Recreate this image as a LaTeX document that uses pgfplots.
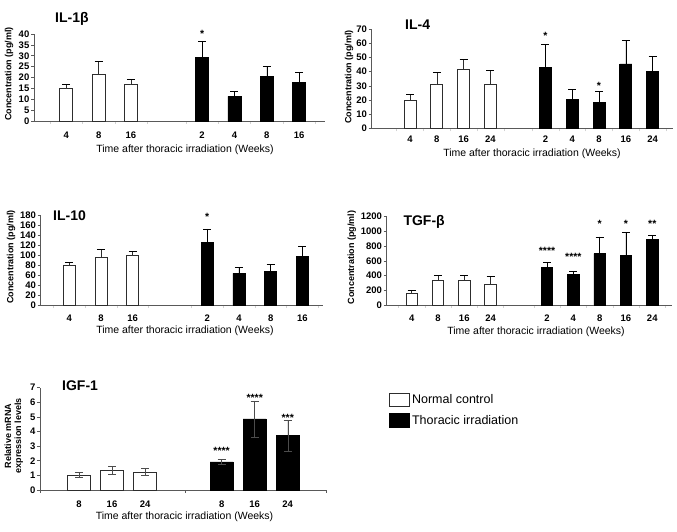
\documentclass[border=0pt]{standalone}
\usepackage{fontspec}
\setmainfont{Liberation Sans}
\usepackage{pgfplots}
\pgfplotsset{compat=1.18}
\pgfplotsset{
  panel/.style={
    scale only axis, clip=false, enlargelimits=false,
    axis x line*=bottom, axis y line*=left,
    axis line style={-, draw=gray!70!black, line width=0.7pt},
    ymin=0,
    tick align=outside,
    major tick length=3pt, minor tick length=3pt,
    major x tick style={draw=none},
    minor x tick style={draw=gray!35, line width=0.5pt},
    major y tick style={draw=gray!70!black, line width=0.6pt},
    scaled y ticks=false,
    /pgf/number format/assume math mode=true,
    /pgf/number format/1000 sep={},
    tick label style={font=\bfseries\fontsize{9.5}{10}\selectfont, text=black},
    yticklabel style={inner sep=1.5pt},
    ylabel style={font=\bfseries\fontsize{9}{10}\selectfont, anchor=center},
    xlabel style={font=\fontsize{10.5}{12}\selectfont, anchor=center},
    ybar, bar shift=0pt,
    error bars/y dir=plus, error bars/y explicit,
    error bars/error mark options={rotate=90, mark size=4pt},
  },
  ctrl/.style={fill=white, draw=gray!35!black, line width=0.8pt},
  irr/.style={fill=black, draw=black, line width=0.8pt},
}
\tikzset{sigstar/.style={anchor=base, yshift=-6pt, font=\bfseries\fontsize{10.5}{11}\selectfont, inner sep=0pt}}
\begin{document}
\begin{tikzpicture}
\useasboundingbox (0,0) rectangle (677pt,532pt);

% ---------- IL-1beta ----------
\begin{axis}[panel, at={(34pt,411pt)}, anchor=south west,
  width=291pt, height=87pt, xmin=0, xmax=9, ymax=40, ytick={0,5,...,40},
  bar width=13pt,
  xtick={1,2,3,5.2,6.2,7.2,8.2}, xticklabels={4,8,16,2,4,8,16},
  minor xtick={0.5,1.5,2.5,3.5,4.7,5.7,6.7,7.7,8.7},
  xticklabel style={yshift=-4pt},
  ylabel={Concentration (pg/ml)}, ylabel style={at={(axis description cs:-0.086,0.54)}},
  xlabel={Time after thoracic irradiation (Weeks)}, xlabel style={at={(axis description cs:0.519,-0.333)}}]
\addplot[ctrl] table[x=x,y=y,y error=e]{
x y e
1 15.0 1.7
2 21.6 6.0
3 16.7 2.7
};
\addplot[irr] table[x=x,y=y,y error=e]{
x y e
5.2 29.4 7.1
6.2 11.3 2.2
7.2 20.5 4.5
8.2 17.6 4.8
};
\node[sigstar] at (axis cs:5.2,41) {*};
\end{axis}

% ---------- IL-4 ----------
\begin{axis}[panel, at={(371.7pt,403.7pt)}, anchor=south west,
  width=301.3pt, height=99pt, xmin=-0.43, xmax=10.81, ymax=70, ytick={0,10,...,70},
  bar width=12pt,
  xtick={1,2,3,4,6.05,7.05,8.05,9.05,10.05}, xticklabels={4,8,16,24,2,4,8,16,24},
  minor xtick={0.5,1.5,2.5,3.5,4.5,5.55,6.55,7.55,8.55,9.55,10.55},
  xticklabel style={yshift=-1pt},
  ylabel={Concentration (pg/ml)}, ylabel style={at={(axis description cs:-0.075,0.52)}},
  xlabel={Time after thoracic irradiation (Weeks)}, xlabel style={at={(axis description cs:0.532,-0.26)}}]
\addplot[ctrl] table[x=x,y=y,y error=e]{
x y e
1 20.0 4.3
2 30.8 8.8
3 41.4 7.1
4 30.8 10.4
};
\addplot[irr] table[x=x,y=y,y error=e]{
x y e
6.05 43.1 16.3
7.05 20.7 6.9
8.05 18.4 7.5
9.05 45.5 16.7
10.05 40.5 10.6
};
\node[sigstar] at (axis cs:6.05,67.2) {*};
\node[sigstar] at (axis cs:8.05,31.8) {*};
\end{axis}

% ---------- IL-10 ----------
\begin{axis}[panel, at={(40.7pt,226.7pt)}, anchor=south west,
  width=282.3pt, height=89.6pt, xmin=0.1, xmax=9.0, ymax=180, ytick={0,20,...,180},
  bar width=12pt,
  xtick={1,2,3,5.35,6.35,7.35,8.35}, xticklabels={4,8,16,2,4,8,16},
  minor xtick={0.5,1.5,2.5,3.5,4.85,5.85,6.85,7.85,8.85},
  xticklabel style={yshift=-3pt},
  ylabel={Concentration (pg/ml)}, ylabel style={at={(axis description cs:-0.105,0.54)}},
  xlabel={Time after thoracic irradiation (Weeks)}, xlabel style={at={(axis description cs:0.511,-0.287)}}]
\addplot[ctrl] table[x=x,y=y,y error=e]{
x y e
1 80.3 5.4
2 96.4 16.6
3 100.4 7.4
};
\addplot[irr] table[x=x,y=y,y error=e]{
x y e
5.35 126.5 26.8
6.35 64.3 12.0
7.35 68.3 14.0
8.35 98.4 20.1
};
\node[sigstar] at (axis cs:5.35,181.4) {*};
\end{axis}

% ---------- TGF-beta ----------
\begin{axis}[panel, at={(386.7pt,227pt)}, anchor=south west,
  width=285pt, height=88.3pt, xmin=0.05, xmax=10.89, ymax=1200, ytick={0,200,...,1200},
  bar width=11.5pt,
  xtick={1,2,3,4,6.15,7.15,8.15,9.15,10.15}, xticklabels={4,8,16,24,2,4,8,16,24},
  minor xtick={0.5,1.5,2.5,3.5,4.5,5.65,6.65,7.65,8.65,9.65,10.65},
  xticklabel style={yshift=-3pt},
  ylabel={Concentration (pg/ml)}, ylabel style={at={(axis description cs:-0.122,0.54)}},
  xlabel={Time after thoracic irradiation (Weeks)}, xlabel style={at={(axis description cs:0.524,-0.30)}}]
\addplot[ctrl] table[x=x,y=y,y error=e]{
x y e
1 158 37
2 340 59
3 340 59
4 285 113
};
\addplot[irr] table[x=x,y=y,y error=e]{
x y e
6.15 512 63
7.15 412 50
8.15 698 230
9.15 675 315
10.15 892 54
};
\node[sigstar] at (axis cs:6.15,761) {****};
\node[sigstar] at (axis cs:7.15,689) {****};
\node[sigstar] at (axis cs:8.15,1141) {*};
\node[sigstar] at (axis cs:9.15,1141) {*};
\node[sigstar] at (axis cs:10.15,1141) {**};
\end{axis}

% ---------- IGF-1 ----------
\begin{axis}[panel, at={(40pt,42pt)}, anchor=south west,
  width=286.7pt, height=102.3pt, xmin=-0.18, xmax=8.5, ymax=7, ytick={0,1,...,7},
  bar width=23pt,
  error bars/y dir=both,
  xtick={1,2,3,5.32,6.32,7.32}, xticklabels={8,16,24,8,16,24},
  minor xtick={-0.18,4.21,8.5},
  minor x tick style={draw=gray!70!black, line width=0.6pt},
  xticklabel style={yshift=-4pt},
  ylabel={Relative mRNA\\expression levels},
  ylabel style={align=center, at={(axis description cs:-0.091,0.53)}},
  xlabel={Time after thoracic irradiation (Weeks)}, xlabel style={at={(axis description cs:0.504,-0.261)}},
  legend style={at={(axis description cs:1.205,0.975)}, anchor=north west, draw=none,
    font=\fontsize{12.5}{14}\selectfont, row sep=6pt, cells={anchor=west}},
  legend image code/.code={\draw[#1, line width=0.8pt] (0pt,-6.8pt) rectangle (20.6pt,6.8pt);}]
\addplot[ctrl, error bars/error bar style={draw=gray!60!black}, error bars/error mark options={rotate=90, mark size=4pt, draw=gray!60!black}] table[x=x,y=y,y error=e]{
x y e
1 1.03 0.17
2 1.35 0.27
3 1.23 0.25
};
\addlegendentry{Normal control}
\addplot[irr, error bars/error bar style={draw=gray!60!black}, error bars/error mark options={rotate=90, mark size=4pt, draw=gray!60!black}] table[x=x,y=y,y error=e]{
x y e
5.32 1.92 0.18
6.32 4.86 1.24
7.32 3.72 1.07
};
\addlegendentry{Thoracic irradiation}
\node[sigstar] at (axis cs:5.32,2.85) {****};
\node[sigstar] at (axis cs:6.32,6.45) {****};
\node[sigstar] at (axis cs:7.32,5.09) {***};
\end{axis}

% ---------- panel titles ----------
\begin{scope}[every node/.style={anchor=base west, inner sep=0pt, font=\bfseries\fontsize{14}{16}\selectfont}]
\node at (55pt,509.3pt) {IL-1β};
\node at (405pt,502pt) {IL-4};
\node at (53pt,311pt) {IL-10};
\node at (403.3pt,306pt) {TGF-β};
\node at (62pt,141.3pt) {IGF-1};
\end{scope}
\end{tikzpicture}
\end{document}
